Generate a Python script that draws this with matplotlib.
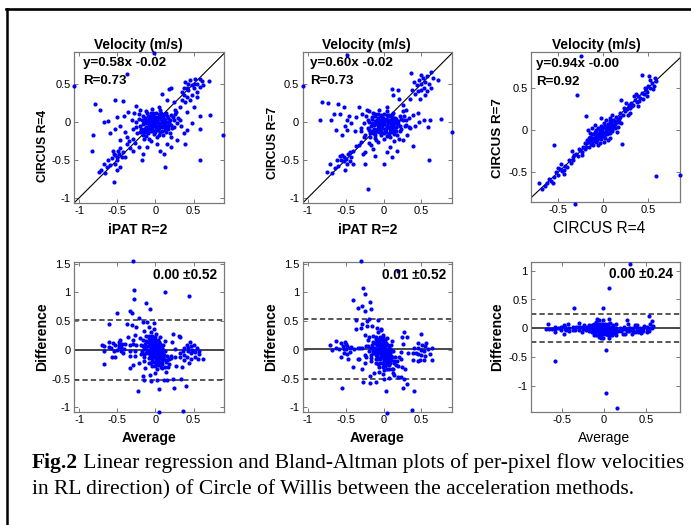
import numpy as np
import matplotlib
matplotlib.use('Agg')
import matplotlib.pyplot as plt
from matplotlib.ticker import FuncFormatter, FixedLocator
from matplotlib.lines import Line2D

plt.rcParams['font.family'] = ['Liberation Sans', 'DejaVu Sans']
plt.rcParams['axes.unicode_minus'] = False

# ---------------- data (per-pixel velocities, m/s) ----------------
# Panel 1: x = iPAT R=2, y = CIRCUS R=4
pairs_ipat_c4 = [
    (-0.02, 0.91), (-1.07, 0.47), (-0.37, 0.63), (0.89, -0.17), (0.58, -0.50), (0.71, 0.09), (0.59, 0.08), (0.58, -0.09), (0.13, -0.59), (-0.55, -0.79),
    (-0.80, 0.24), (-0.73, 0.16), (-0.53, 0.29), (-0.43, 0.28), (-0.68, 0.00), (-0.63, 0.01), (-0.50, 0.06), (-0.41, 0.07), (-0.36, 0.13), (-0.25, 0.21),
    (-0.31, 0.02), (-0.53, -0.09), (-0.46, -0.06), (-0.40, -0.14), (-0.38, -0.20), (-0.25, -0.07), (-0.20, -0.13), (-0.15, -0.22), (-0.11, -0.33), (-0.22, -0.33),
    (-0.29, -0.39), (-0.47, -0.24), (-0.60, -0.15), (-0.16, -0.42), (-0.18, -0.50), (-0.82, -0.18), (-0.84, -0.39),
    (-0.55, -0.42), (-0.53, -0.44), (-0.51, -0.46), (-0.49, -0.39), (-0.57, -0.48), (-0.62, -0.50), (-0.68, -0.55), (-0.71, -0.64), (-0.74, -0.66), (-0.66, -0.68),
    (-0.60, -0.57), (-0.46, -0.35), (-0.44, -0.46), (-0.53, -0.55), (-0.64, -0.59), (-0.40, -0.46), (-0.38, -0.29), (-0.33, -0.35), (-0.46, -0.59), (-0.51, -0.64),
    (-0.48, -0.43), (-0.50, -0.50), (-0.56, -0.38), (-0.42, -0.40), (-0.35, -0.25), (-0.30, -0.22), (-0.27, -0.28),
    (-0.20, -0.05), (-0.18, 0.02), (-0.15, -0.10), (-0.14, 0.05), (-0.12, -0.02), (-0.10, 0.08), (-0.10, -0.15), (-0.08, 0.00), (-0.07, -0.07), (-0.06, 0.12),
    (-0.05, -0.03), (-0.04, 0.04), (-0.03, -0.12), (-0.02, 0.01), (-0.01, -0.06), (0.00, 0.06), (0.00, -0.02), (0.01, -0.10), (0.02, 0.03), (0.03, -0.05),
    (0.04, 0.10), (0.05, -0.01), (0.06, -0.14), (0.07, 0.04), (0.08, -0.07), (0.09, 0.00), (0.10, 0.07), (0.11, -0.04), (0.12, -0.11), (0.13, 0.02),
    (0.15, -0.06), (0.16, 0.05), (0.18, -0.02), (0.20, 0.09), (0.22, -0.08), (-0.22, 0.10), (-0.17, -0.18), (-0.13, 0.14), (-0.09, -0.22), (-0.05, 0.17),
    (0.02, -0.20), (0.06, 0.15), (0.10, -0.18), (0.14, 0.12), (0.19, -0.15), (0.24, 0.03), (-0.25, 0.00), (-0.03, 0.08), (0.04, -0.08), (-0.08, -0.10),
    (0.12, 0.10), (-0.15, 0.00), (0.08, 0.02), (-0.02, -0.16), (0.17, -0.10), (-0.11, 0.11), (0.26, 0.10), (0.28, -0.02), (0.05, 0.20), (-0.06, -0.25),
    (-0.19, -0.09), (-0.17, -0.03), (-0.16, 0.08), (-0.13, -0.07), (-0.12, 0.03), (-0.11, -0.11), (-0.09, 0.04), (-0.08, -0.04), (-0.07, 0.07), (-0.06, -0.12),
    (-0.05, 0.01), (-0.04, -0.08), (-0.03, 0.11), (-0.02, -0.04), (-0.01, 0.03), (0.00, -0.13), (0.01, 0.00), (0.02, -0.07), (0.03, 0.06), (0.04, -0.03),
    (0.05, -0.17), (0.06, 0.05), (0.07, -0.05), (0.08, 0.09), (0.09, -0.12), (0.10, -0.03), (0.11, 0.04), (0.12, -0.07), (0.13, -0.01), (0.14, -0.14),
    (0.16, 0.00), (0.17, -0.05), (0.19, 0.03), (0.21, -0.04), (-0.21, 0.04), (-0.14, -0.13), (-0.10, 0.00), (-0.05, -0.07), (0.00, 0.02), (0.03, -0.11),
    (0.07, 0.11), (0.10, 0.01), (-0.07, 0.02), (-0.02, 0.06), (0.15, 0.07), (-0.18, -0.13), (0.23, 0.06), (-0.12, -0.19), (0.01, 0.12), (0.05, 0.04),
    (-0.28, 0.12), (-0.24, -0.15), (0.30, 0.05), (0.20, -0.20), (-0.30, -0.10), (0.33, -0.05), (0.26, 0.16), (-0.20, 0.16),
    (0.09, 0.36), (0.15, 0.29), (0.18, 0.43), (0.24, 0.26), (0.27, 0.13), (0.32, 0.20), (0.35, 0.29), (0.37, 0.35), (0.32, 0.02), (0.24, -0.07),
    (0.37, -0.15), (0.39, -0.29), (0.06, -0.39), (0.11, -0.42), (0.02, -0.29), (0.15, -0.29), (0.21, -0.33), (0.28, -0.24), (0.41, -0.11), (0.48, -0.02),
    (0.50, 0.20), (0.41, 0.13),
    (0.39, 0.53), (0.41, 0.45), (0.46, 0.55), (0.48, 0.48), (0.52, 0.56), (0.54, 0.50), (0.58, 0.57), (0.61, 0.54), (0.70, 0.54), (0.43, 0.42),
    (0.50, 0.44), (0.54, 0.39), (0.48, 0.35), (0.41, 0.33), (0.35, 0.39), (0.59, 0.46), (0.63, 0.48), (0.55, 0.33), (0.46, 0.29), (0.37, 0.45),
    (0.51, 0.50), (0.43, 0.50), (0.39, 0.26), (0.21, 0.44),
]

# Panel 2: x = iPAT R=2, y = CIRCUS R=7
pairs_ipat_c7 = [
    (-0.49, 0.88), (-1.07, 0.47), (0.90, -0.14), (0.60, -0.50), (0.76, 0.04), (0.61, 0.02), (0.59, -0.07), (-0.21, -0.88), (0.00, -0.55), (0.39, -0.32),
    (-0.81, 0.26), (-0.73, 0.25), (-0.84, 0.03), (-0.70, 0.03), (-0.60, 0.23), (-0.52, 0.19), (-0.33, 0.19), (-0.63, -0.11), (-0.51, -0.06), (-0.49, -0.11),
    (-0.55, -0.18), (-0.46, 0.07), (-0.36, 0.06), (-0.22, 0.15), (-0.48, 0.03), (-0.43, -0.02), (-0.38, -0.12), (-0.30, -0.08), (-0.26, -0.20), (-0.20, -0.28),
    (-0.14, -0.36), (-0.24, -0.40), (-0.12, -0.45), (-0.17, -0.30), (-0.33, -0.30), (-0.66, 0.10), (-0.58, 0.10),
    (-0.55, -0.44), (-0.52, -0.46), (-0.50, -0.49), (-0.47, -0.43), (-0.45, -0.52), (-0.53, -0.52), (-0.49, -0.55), (-0.43, -0.47), (-0.57, -0.50), (-0.62, -0.50),
    (-0.71, -0.55), (-0.75, -0.66), (-0.68, -0.68), (-0.64, -0.61), (-0.60, -0.58), (-0.51, -0.63), (-0.25, -0.55), (-0.27, -0.42), (-0.40, -0.38), (-0.36, -0.32),
    (-0.30, -0.27), (-0.45, -0.40), (-0.58, -0.45), (-0.40, -0.55),
    (-0.21, -0.08), (-0.19, 0.00), (-0.16, -0.12), (-0.15, 0.04), (-0.13, -0.04), (-0.11, 0.07), (-0.11, -0.17), (-0.09, -0.02), (-0.08, -0.09), (-0.07, 0.10),
    (-0.06, -0.05), (-0.05, 0.02), (-0.04, -0.14), (-0.03, -0.01), (-0.02, -0.08), (-0.01, 0.05), (0.01, -0.03), (0.02, -0.12), (0.03, 0.02), (0.04, -0.07),
    (0.05, 0.09), (0.06, -0.02), (0.07, -0.16), (0.08, 0.03), (0.09, -0.09), (0.10, -0.01), (0.11, 0.06), (0.12, -0.05), (0.13, -0.13), (0.14, 0.01),
    (0.16, -0.07), (0.17, 0.04), (0.19, -0.03), (0.21, 0.08), (0.23, -0.10), (-0.23, 0.08), (-0.18, -0.20), (-0.14, 0.12), (-0.10, -0.24), (-0.06, 0.15),
    (0.01, -0.22), (0.05, 0.14), (0.09, -0.20), (0.13, 0.11), (0.18, -0.17), (0.25, 0.02), (-0.26, -0.02), (-0.04, 0.07), (0.03, -0.09), (-0.09, -0.12),
    (0.11, 0.09), (-0.16, -0.01), (0.07, 0.01), (-0.03, -0.18), (0.16, -0.12), (-0.12, 0.10), (0.27, 0.08), (0.29, -0.04), (0.04, 0.19), (-0.07, -0.27),
    (-0.19, -0.11), (-0.17, -0.05), (-0.16, 0.06), (-0.13, -0.09), (-0.12, 0.01), (-0.11, -0.13), (-0.09, 0.02), (-0.08, -0.06), (-0.07, 0.05), (-0.06, -0.14),
    (-0.05, -0.01), (-0.04, -0.10), (-0.03, 0.09), (-0.02, -0.06), (-0.01, 0.01), (0.00, -0.15), (0.01, -0.02), (0.02, -0.09), (0.03, 0.04), (0.04, -0.05),
    (0.05, -0.19), (0.06, 0.03), (0.07, -0.07), (0.08, 0.07), (0.09, -0.14), (0.10, -0.05), (0.11, 0.02), (0.12, -0.09), (0.13, -0.03), (0.14, -0.16),
    (0.16, -0.02), (0.17, -0.07), (0.19, 0.01), (0.21, -0.06), (-0.21, 0.02), (-0.14, -0.15), (-0.10, -0.02), (-0.05, -0.09), (0.00, 0.00), (0.03, -0.13),
    (0.07, 0.09), (0.10, -0.01), (-0.07, 0.00), (-0.02, 0.04), (0.15, 0.05), (-0.18, -0.15), (0.23, 0.04), (-0.12, -0.21), (0.01, 0.10), (0.05, 0.02),
    (-0.28, 0.10), (-0.24, -0.17), (0.30, 0.03), (0.20, -0.22), (-0.30, -0.12), (0.33, -0.07), (0.26, 0.14), (-0.20, 0.14),
    (0.11, 0.43), (0.19, 0.42), (0.13, 0.35), (0.39, 0.09), (0.26, -0.24), (0.08, -0.33), (0.11, -0.46), (0.20, 0.30), (0.25, 0.22), (0.30, 0.15),
    (0.33, 0.05), (0.28, -0.05), (0.22, -0.12), (0.35, -0.08), (0.42, -0.05), (0.47, 0.00), (0.53, 0.02), (0.45, 0.12), (0.14, -0.25), (0.05, -0.40),
    (0.18, -0.38), (0.31, -0.17),
    (0.36, 0.64), (0.63, 0.66), (0.72, 0.55), (0.40, 0.52), (0.44, 0.48), (0.47, 0.55), (0.50, 0.50), (0.52, 0.58), (0.55, 0.53), (0.58, 0.60),
    (0.60, 0.50), (0.45, 0.40), (0.49, 0.42), (0.53, 0.45), (0.57, 0.40), (0.42, 0.36), (0.38, 0.42), (0.62, 0.45), (0.48, 0.30), (0.35, 0.30),
    (0.55, 0.35), (0.65, 0.58), (0.50, 0.62),
]

# Panel 3: x = CIRCUS R=4, y = CIRCUS R=7
pairs_c4_c7 = [
    (-0.25, 0.87), (-0.29, 0.41), (-0.54, -0.18), (-0.71, -0.63), (-0.31, -0.87), (0.58, -0.54), (0.85, -0.53), (-0.19, 0.16), (0.20, 0.35), (0.21, -0.16),
    (-0.65, -0.66), (-0.62, -0.63), (-0.60, -0.58), (-0.58, -0.60), (-0.55, -0.55), (-0.52, -0.50), (-0.50, -0.53), (-0.48, -0.46), (-0.46, -0.48), (-0.44, -0.47),
    (-0.42, -0.42), (-0.40, -0.44), (-0.38, -0.36), (-0.36, -0.39), (-0.34, -0.32), (-0.32, -0.30), (-0.30, -0.28), (-0.28, -0.31), (-0.26, -0.24), (-0.24, -0.26),
    (-0.22, -0.20), (-0.20, -0.23), (-0.47, -0.40), (-0.56, -0.62), (-0.43, -0.52), (-0.35, -0.25), (-0.68, -0.70), (-0.50, -0.45),
    (-0.27, -0.22), (-0.23, -0.29), (-0.33, -0.36), (0.23, 0.26), (0.29, 0.30), (0.32, 0.28),
    (-0.18, -0.12), (-0.16, -0.20), (-0.15, -0.08), (-0.14, -0.16), (-0.12, -0.05), (-0.11, -0.18), (-0.10, -0.10), (-0.09, -0.02), (-0.08, -0.14), (-0.07, -0.06),
    (-0.06, 0.02), (-0.05, -0.10), (-0.04, -0.04), (-0.03, 0.05), (-0.02, -0.08), (-0.01, -0.01), (0.00, 0.04), (0.00, -0.06), (0.01, 0.08), (0.02, -0.02),
    (0.03, 0.02), (0.04, -0.05), (0.05, 0.07), (0.06, 0.01), (0.07, -0.03), (0.08, 0.10), (0.09, 0.04), (0.10, -0.01), (0.11, 0.12), (0.12, 0.06),
    (0.13, 0.02), (0.14, 0.15), (0.15, 0.09), (0.16, 0.04), (0.18, 0.13), (0.19, 0.20), (0.20, 0.08), (0.22, 0.18), (-0.13, 0.02), (-0.06, -0.18),
    (0.03, 0.12), (0.07, -0.10), (-0.17, 0.00), (0.10, 0.18), (-0.02, 0.14), (0.01, -0.14), (0.15, -0.02), (-0.09, 0.06), (0.05, -0.12), (-0.20, -0.15),
    (-0.19, -0.20), (-0.17, -0.14), (-0.16, -0.10), (-0.14, -0.12), (-0.13, -0.17), (-0.12, -0.09), (-0.11, -0.13), (-0.10, -0.05), (-0.09, -0.11), (-0.08, -0.08),
    (-0.07, -0.12), (-0.06, -0.03), (-0.05, -0.07), (-0.04, 0.00), (-0.03, -0.05), (-0.02, -0.11), (-0.01, 0.02), (0.00, -0.03), (0.01, -0.07), (0.02, 0.05),
    (0.03, -0.01), (0.04, 0.03), (0.05, -0.03), (0.06, 0.06), (0.07, 0.02), (0.08, -0.01), (0.09, 0.08), (0.10, 0.05), (0.11, 0.02), (0.12, 0.10),
    (0.13, 0.07), (0.14, 0.11), (0.16, 0.12), (0.17, 0.09), (0.19, 0.15), (-0.15, -0.04), (-0.08, 0.00), (0.02, -0.09), (0.08, 0.14), (-0.04, -0.15),
    (0.24, 0.22), (0.26, 0.25), (0.28, 0.27), (0.30, 0.26), (0.31, 0.32), (0.33, 0.30), (0.35, 0.35), (0.37, 0.33), (0.39, 0.40), (0.41, 0.38),
    (0.43, 0.44), (0.45, 0.42), (0.47, 0.47), (0.49, 0.45), (0.50, 0.52), (0.52, 0.50), (0.54, 0.55), (0.56, 0.52), (0.58, 0.58), (0.43, 0.65),
    (0.51, 0.64), (0.52, 0.59), (0.46, 0.50), (0.40, 0.34), (0.34, 0.40), (0.25, 0.32), (0.30, 0.20), (0.38, 0.28), (0.55, 0.48), (0.57, 0.61),
    (0.48, 0.40), (0.36, 0.42), (0.27, 0.18), (0.44, 0.37),
]

x_labels = ['iPAT R=2', 'iPAT R=2', 'CIRCUS R=4']
y_labels = ['CIRCUS R=4', 'CIRCUS R=7', 'CIRCUS R=7']
slopes = [0.58, 0.60, 0.94]
intercepts = [-0.02, -0.02, -0.0]
r_values = [0.73, 0.73, 0.92]
mean_diff = [0.00, 0.01, 0.00]
limits_of_agreement = [0.52, 0.52, 0.24]

# ---------------- layout ----------------
W, H = 691, 525
fig = plt.figure(figsize=(W / 100, H / 100), dpi=100)
fig.patch.set_facecolor('white')


def add_ax(l, r, t, b):
    return fig.add_axes([l / W, 1 - b / H, (r - l) / W, (b - t) / H])


top_boxes = [(74, 224, 52, 203), (302.7, 451.7, 52, 203), (531, 680, 52, 202)]
bot_boxes = [(74, 224, 262, 412), (302.7, 451.7, 262, 412), (531, 680, 262, 412)]
top_lims = [((-1.07, 0.90), (-1.07, 0.92)), ((-1.07, 0.90), (-1.07, 0.92)), ((-0.80, 0.85), (-0.85, 0.92))]
bot_lims = [((-1.07, 0.90), (-1.08, 1.53)), ((-1.07, 0.90), (-1.08, 1.53)), ((-0.875, 0.91), (-1.45, 1.15))]
top_ticks = [([-1, -0.5, 0, 0.5], [-1, -0.5, 0, 0.5]), ([-1, -0.5, 0, 0.5], [-1, -0.5, 0, 0.5]),
             ([-0.5, 0, 0.5], [-0.5, 0, 0.5])]
bot_ticks = [([-1, -0.5, 0, 0.5], [-1, -0.5, 0, 0.5, 1, 1.5]), ([-1, -0.5, 0, 0.5], [-1, -0.5, 0, 0.5, 1, 1.5]),
             ([-0.5, 0, 0.5], [-1, -0.5, 0, 0.5, 1])]

fmt = FuncFormatter(lambda v, p: '%g' % v)
GRAY = '#7a7a7a'
BLUE = '#0000ff'
TICK = 8.0
MS = 3.0


def style(ax, xl, yl, xt, yt):
    ax.set_xlim(*xl)
    ax.set_ylim(*yl)
    ax.xaxis.set_major_locator(FixedLocator(xt))
    ax.yaxis.set_major_locator(FixedLocator(yt))
    ax.xaxis.set_major_formatter(fmt)
    ax.yaxis.set_major_formatter(fmt)
    for s in ax.spines.values():
        s.set_color(GRAY)
        s.set_linewidth(0.9)
    ax.tick_params(direction='in', length=3, width=0.7, color=GRAY, top=True, right=True,
                   labelsize=TICK, pad=2.5, labelcolor='black')


datasets = [pairs_ipat_c4, pairs_ipat_c7, pairs_c4_c7]
title_x = [0.43, 0.43, 0.44]
xlab_pos = [(0.423, -0.179), (0.437, -0.179), (0.455, -0.175)]
xlab_style = [(10.0, 'bold'), (10.0, 'bold'), (11.2, 'normal')]
ylab_pos = [(-0.205, 0.38), (-0.197, 0.40), (-0.219, 0.427)]
ylab_size = [8.7, 8.7, 9.6]
ann_x = [0.058, 0.049, 0.034]
ann_y = [(0.93, 0.806), (0.93, 0.81), (0.918, 0.80)]

for i in range(3):
    arr = np.array(datasets[i])
    xs, ys = arr[:, 0], arr[:, 1]

    # ---- regression panels ----
    ax = add_ax(*top_boxes[i])
    style(ax, top_lims[i][0], top_lims[i][1], top_ticks[i][0], top_ticks[i][1])
    ax.axline((0, 0), slope=1, color='black', lw=0.8, zorder=2)
    ax.plot(xs, ys, 'o', color=BLUE, ms=MS, mew=0, zorder=3, clip_on=False)
    ax.text(title_x[i], 1.0, 'Velocity (m/s)', transform=ax.transAxes, ha='center', va='bottom',
            fontsize=9.9, fontweight='bold')
    ax.text(xlab_pos[i][0], xlab_pos[i][1], x_labels[i], transform=ax.transAxes, ha='center', va='center',
            fontsize=xlab_style[i][0], fontweight=xlab_style[i][1])
    ax.text(ylab_pos[i][0], ylab_pos[i][1], y_labels[i], transform=ax.transAxes, ha='center', va='center',
            rotation=90, fontsize=ylab_size[i], fontweight='bold')
    ax.text(ann_x[i], ann_y[i][0], 'y=%.2fx %.2f' % (slopes[i], intercepts[i]), transform=ax.transAxes,
            ha='left', va='center', fontsize=9.7, fontweight='bold')
    ax.text(ann_x[i], ann_y[i][1], 'R=%.2f' % r_values[i], transform=ax.transAxes,
            ha='left', va='center', fontsize=9.6, fontweight='bold')

    # ---- Bland-Altman panels ----
    avg = (xs + ys) / 2.0
    diff = ys - xs
    bx = add_ax(*bot_boxes[i])
    style(bx, bot_lims[i][0], bot_lims[i][1], bot_ticks[i][0], bot_ticks[i][1])
    bx.axhline(mean_diff[i], color='#3a3a3a', lw=1.3, zorder=2)
    bx.axhline(mean_diff[i] + limits_of_agreement[i], color='#2a2a2a', lw=1.1, ls=(0, (3.5, 2)), zorder=2)
    bx.axhline(mean_diff[i] - limits_of_agreement[i], color='#2a2a2a', lw=1.1, ls=(0, (3.5, 2)), zorder=2)
    bx.plot(avg, diff, 'o', color=BLUE, ms=MS, mew=0, zorder=3, clip_on=False)
    bx.text([0.951, 0.962, 0.951][i], [0.913, 0.913, 0.918][i],
            '%.2f \u00b1%.2f' % (mean_diff[i], limits_of_agreement[i]), transform=bx.transAxes,
            ha='right', va='center', fontsize=9.8, fontweight='bold')
    bx.text([0.50, 0.50, 0.487][i], -0.171, 'Average', transform=bx.transAxes, ha='center', va='center',
            fontsize=10.1, fontweight=['bold', 'bold', 'normal'][i])
    bx.text([-0.215, -0.215, -0.23][i], 0.5, 'Difference', transform=bx.transAxes, ha='center', va='center',
            rotation=90, fontsize=10.1, fontweight='bold')

# ---------------- frame ----------------
fig.add_artist(Line2D([6.5 / W, 6.5 / W], [0, 1 - 8.5 / H], color='black', lw=1.8, transform=fig.transFigure))
fig.add_artist(Line2D([5.6 / W, 1.0], [1 - 8.5 / H, 1 - 8.5 / H], color='black', lw=1.9, transform=fig.transFigure))

# ---------------- caption ----------------
renderer = fig.canvas.get_renderer()
serif = ['Liberation Serif', 'DejaVu Serif']
cap_left = 31.7
base1, base2 = 468, 494
line1_rest = ' Linear regression and Bland-Altman plots of per-pixel flow velocities'
line2 = 'in RL direction) of Circle of Willis between the acceleration methods.'
target_w = 681 - cap_left
size = 14.0
for _ in range(2):
    ta = fig.text(cap_left / W, 1 - base1 / H, 'Fig.2', fontweight='bold', family=serif, fontsize=size, va='baseline')
    wa = ta.get_window_extent(renderer).width
    tb = fig.text(0, 0, line1_rest, family=serif, fontsize=size, va='baseline')
    wb = tb.get_window_extent(renderer).width
    ta.remove()
    tb.remove()
    size = size * target_w / (wa + wb)

ta = fig.text(cap_left / W, 1 - base1 / H, 'Fig.2', fontweight='bold', family=serif, fontsize=size, va='baseline')
x1 = ta.get_window_extent(renderer).x1
fig.text(x1 / W, 1 - base1 / H, line1_rest, family=serif, fontsize=size, va='baseline')
fig.text(cap_left / W, 1 - base2 / H, line2, family=serif, fontsize=size, va='baseline')

fig.savefig('out.png', dpi=100, facecolor='white')
